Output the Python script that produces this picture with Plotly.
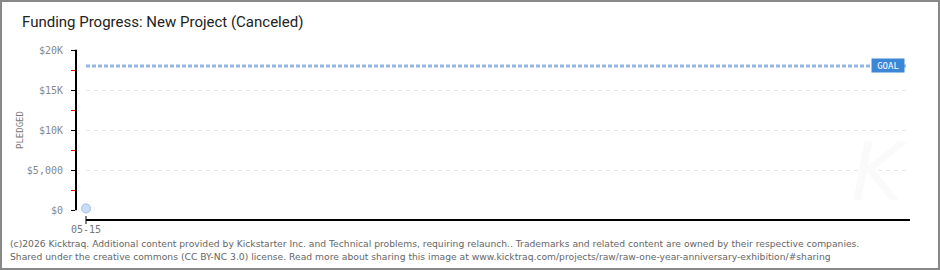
import plotly.graph_objects as go

# ---- data ----
dates = ["05-15"]
date_pos = [0]
pledged = [200]
goal = 18000
y_tickvals = [0, 5000, 10000, 15000, 20000]
y_ticktext = ["$0", "$5,000", "$10K", "$15K", "$20K"]
title = "Funding Progress: New Project (Canceled)"
footer1 = ("(c)2026 Kicktraq. Additional content provided by Kickstarter Inc. and Technical problems, "
           "requiring relaunch.. Trademarks and related content are owned by their respective companies.")
footer2 = ("Shared under the creative commons (CC BY-NC 3.0) license. Read more about sharing this image at "
           "www.kicktraq.com/projects/raw/raw-one-year-anniversary-exhibition/#sharing")

W, H = 940, 270
def px(x):
    return x / W
def py(y):
    return 1 - y / H

X_END = 82.4  # x units: 10 px per unit

fig = go.Figure()

# goal line
fig.add_trace(go.Scatter(
    x=[date_pos[0], 82.2], y=[goal, goal], mode="lines",
    line=dict(color="#95b7e3", width=3, dash="4px,2px"),
    hoverinfo="skip", showlegend=False, cliponaxis=False))

# pledged series
fig.add_trace(go.Scatter(
    x=date_pos, y=pledged, mode="markers",
    marker=dict(size=9, color="#c9def6", line=dict(color="#9cbde6", width=1)),
    showlegend=False, cliponaxis=False))

# y-axis spine drawn in a small helper subplot (axis decoration, not data)
fig.add_trace(go.Scatter(
    x=[0.5, 0.5], y=[0, 20000], mode="lines", xaxis="x2", yaxis="y2",
    line=dict(color="black", width=2), hoverinfo="skip", showlegend=False))

fig.update_layout(
    width=W, height=H,
    margin=dict(l=0, r=0, t=0, b=0, autoexpand=False),
    paper_bgcolor="white", plot_bgcolor="rgba(0,0,0,0)",
    xaxis=dict(
        domain=[px(86), px(910)], range=[0, X_END],
        anchor="free", position=py(220),
        tickvals=date_pos, ticktext=dates,
        showgrid=True, gridcolor="#e6e6e6", griddash="4px,4px", gridwidth=1,
        showline=True, linecolor="black", linewidth=2,
        ticks="", zeroline=False, automargin=False,
        tickfont=dict(family="DejaVu Sans Mono", size=10, color="#777"),
    ),
    yaxis=dict(
        domain=[py(210), py(50)], range=[0, 20000],
        anchor="free", position=px(76), automargin=False,
        tickvals=y_tickvals, ticktext=[t + " " for t in y_ticktext],
        showgrid=True, gridcolor="#e6e6e6", griddash="4px,4px", gridwidth=1,
        zeroline=False, showline=True, linecolor="black", linewidth=2,
        ticks="outside", ticklen=4, tickcolor="black", tickwidth=1,
        minor=dict(ticks="outside", ticklen=4, tickcolor="red", tickwidth=1,
                   tick0=0, dtick=2500, showgrid=False),
        tickfont=dict(family="DejaVu Sans Mono", size=10, color="#888"),
    ),
    xaxis2=dict(domain=[px(74), px(78)], range=[0, 1], anchor="y2", visible=False,
                automargin=False, fixedrange=True),
    yaxis2=dict(domain=[py(211), py(49)], range=[-100, 20100], anchor="x2", visible=False,
                automargin=False, fixedrange=True),
    font=dict(family="DejaVu Sans"),
)

shapes = [
    # outer border
    dict(type="rect", xref="paper", yref="paper", x0=px(1), x1=px(939), y0=py(269), y1=py(1),
         line=dict(color="#888", width=2), layer="above"),
    # y axis spine (reinforce)
    dict(type="line", xref="paper", yref="paper", x0=px(76), x1=px(76), y0=py(210), y1=py(50),
         line=dict(color="black", width=2), layer="above"),
    # x start tick
    dict(type="line", xref="paper", yref="paper", x0=px(86), x1=px(86), y0=py(224), y1=py(216),
         line=dict(color="black", width=1), layer="above"),
]
fig.update_layout(shapes=shapes)

ann = [
    dict(text=title, x=px(20), y=py(22), xref="paper", yref="paper", xanchor="left", yanchor="middle",
         showarrow=False, font=dict(family="Roboto", size=15, color="#222")),
    dict(text="PLEDGED", x=px(20), y=py(130), xref="paper", yref="paper", xanchor="center", yanchor="middle",
         textangle=-90, showarrow=False, font=dict(family="DejaVu Sans Mono", size=9, color="#777")),
    dict(text="GOAL", x=px(887.5), y=goal, xref="paper", yref="y", xanchor="center", yanchor="middle",
         showarrow=False, bgcolor="#3b87d6", width=30, height=11, borderpad=1,
         font=dict(family="DejaVu Sans Mono", size=9, color="white")),
    dict(text="<i>K</i>", x=px(880), y=py(172), xref="paper", yref="paper", xanchor="center", yanchor="middle",
         showarrow=False, font=dict(family="DejaVu Sans", size=80, color="#fafafa")),
    dict(text=footer1, x=px(8), y=py(243), xref="paper", yref="paper", xanchor="left", yanchor="middle",
         showarrow=False, font=dict(family="DejaVu Sans", size=9.2, color="#666")),
    dict(text=footer2, x=px(8), y=py(256), xref="paper", yref="paper", xanchor="left", yanchor="middle",
         showarrow=False, font=dict(family="DejaVu Sans", size=9.2, color="#666")),
]
fig.update_layout(annotations=ann)

fig.write_html("out.html")
